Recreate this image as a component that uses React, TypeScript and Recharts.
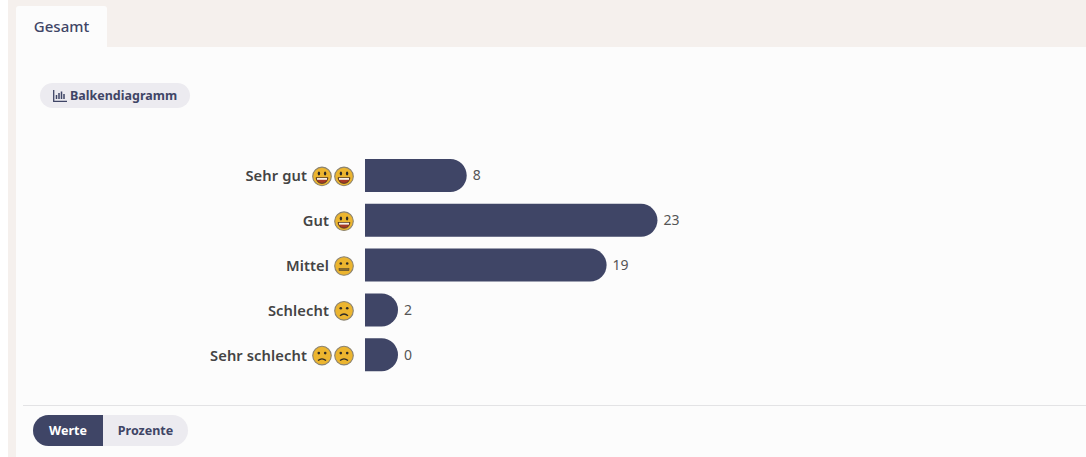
import React from "react";
import { BarChart, Bar, XAxis, YAxis, LabelList } from "recharts";

const categories = ["Sehr gut", "Gut", "Mittel", "Schlecht", "Sehr schlecht"];
const values = [8, 23, 19, 2, 0];
const faceKinds = ["happy", "happy", "neutral", "sad", "sad"];
const faceCounts = [2, 1, 1, 1, 2];
const tabLabel = "Gesamt";
const chartTypeLabel = "Balkendiagramm";
const toggleLabels = ["Werte", "Prozente"];

const rows = categories.map((name, i) => ({ name, value: values[i] }));
const FONT = "'Noto Sans', Roboto, sans-serif";
const DARK = "#3f4566";

function Face({ cx, cy, kind }: { cx: number; cy: number; kind: string }) {
  return (
    <g>
      <circle cx={cx} cy={cy} r={9.3} fill="#ecb52f" stroke="#8b8371" strokeWidth={1.1} />
      {kind === "happy" ? (
        <>
          <ellipse cx={cx - 3.1} cy={cy - 2.8} rx={1.2} ry={2} fill="#2e2b26" />
          <ellipse cx={cx + 3.1} cy={cy - 2.8} rx={1.2} ry={2} fill="#2e2b26" />
          <path d={`M${cx - 6} ${cy + 1.3} H${cx + 6} Q${cx + 5} ${cy + 7} ${cx} ${cy + 7} Q${cx - 5} ${cy + 7} ${cx - 6} ${cy + 1.3} Z`} fill="#a83a24" stroke="#2e2b26" strokeWidth={0.7} />
          <rect x={cx - 5} y={cy + 1.6} width={10} height={1.8} fill="#f6f1e6" />
        </>
      ) : (
        <>
          <circle cx={cx - 3.2} cy={cy - 2.5} r={1.3} fill="#2e2b26" />
          <circle cx={cx + 3.2} cy={cy - 2.5} r={1.3} fill="#2e2b26" />
        </>
      )}
      {kind === "neutral" && (
        <rect x={cx - 5} y={cy + 2.5} width={10} height={2.2} fill="#8a6a2a" stroke="#4a4030" strokeWidth={0.5} />
      )}
      {kind === "sad" && (
        <path d={`M${cx - 4} ${cy + 5} Q${cx} ${cy + 1.5} ${cx + 4} ${cy + 5}`} fill="none" stroke="#2e2b26" strokeWidth={1.3} />
      )}
    </g>
  );
}

function CategoryTick(props: any) {
  const { y, payload, index } = props;
  const n = faceCounts[index] ?? 1;
  const kind = faceKinds[index] ?? "happy";
  const lastCx = 344;
  const textEnd = n === 2 ? 307 : 329;
  return (
    <g>
      <text x={textEnd} y={y + 6} textAnchor="end" fontFamily={FONT} fontSize={14.7} fontWeight={600} fill="#444444" style={{ letterSpacing: 0.1 }}>
        {payload.value}
      </text>
      {n === 2 && <Face cx={lastCx - 22} cy={y + 1} kind={kind} />}
      <Face cx={lastCx} cy={y + 1} kind={kind} />
    </g>
  );
}

export default function App() {
  return (
    <div style={{ position: "absolute", left: 0, top: 0, width: 1086, height: 457, background: "#ffffff", overflow: "hidden", fontFamily: FONT }}>
      <div style={{ position: "absolute", left: 8, top: 0, width: 1078, height: 457, background: "#f5f0ed" }} />
      <div style={{ position: "absolute", left: 16, top: 47, width: 1070, height: 410, background: "#fcfcfc" }} />
      <div style={{ position: "absolute", left: 16, top: 6, width: 91, height: 41, background: "#fcfcfc", borderRadius: "3px 3px 0 0", color: DARK, fontSize: 15, fontWeight: 500, lineHeight: "41px", textAlign: "center" }}>
        {tabLabel}
      </div>
      <div style={{ position: "absolute", left: 40, top: 83, width: 150, height: 25, background: "#ecebf0", borderRadius: 13, color: DARK, fontSize: 12.5, fontWeight: 700, lineHeight: "25px", display: "flex", alignItems: "center", paddingLeft: 13, boxSizing: "border-box" }}>
        <svg width={14} height={12} viewBox="0 0 14 12" style={{ marginRight: 3 }}>
          <path d="M0.7 0 V11.3 H14" fill="none" stroke={DARK} strokeWidth={1.3} />
          <path d="M3.5 9 V5 M6 9 V3 M8.5 9 V1.5 M11 9 V4" fill="none" stroke={DARK} strokeWidth={1.5} />
        </svg>
        {chartTypeLabel}
      </div>

      <div style={{ position: "absolute", left: 0, top: 153 }}>
        <BarChart width={1086} height={224} data={rows} layout="vertical" margin={{ top: 0, right: 0, bottom: 0, left: 0 }} barSize={33}>
          <XAxis type="number" hide domain={[0, 56.7]} />
          <YAxis type="category" dataKey="name" width={365} axisLine={false} tickLine={false} interval={0} tick={<CategoryTick />} />
          <Bar dataKey="value" fill={DARK} radius={[0, 16.5, 16.5, 0]} minPointSize={33} isAnimationActive={false}>
            <LabelList dataKey="value" position="right" offset={6} fontFamily={FONT} fontSize={14} fill="#555555" />
          </Bar>
        </BarChart>
      </div>

      <div style={{ position: "absolute", left: 23, top: 405, width: 1063, height: 1, background: "#e3e3e5" }} />
      <div style={{ position: "absolute", left: 33, top: 415, width: 155, height: 31, background: "#ecebf0", borderRadius: 16, overflow: "hidden", fontSize: 12.5, fontWeight: 700, lineHeight: "31px", textAlign: "center" }}>
        <div style={{ position: "absolute", left: 0, top: 0, width: 70, height: 31, background: DARK, color: "#ffffff" }}>{toggleLabels[0]}</div>
        <div style={{ position: "absolute", left: 70, top: 0, width: 85, height: 31, color: DARK }}>{toggleLabels[1]}</div>
      </div>
    </div>
  );
}
